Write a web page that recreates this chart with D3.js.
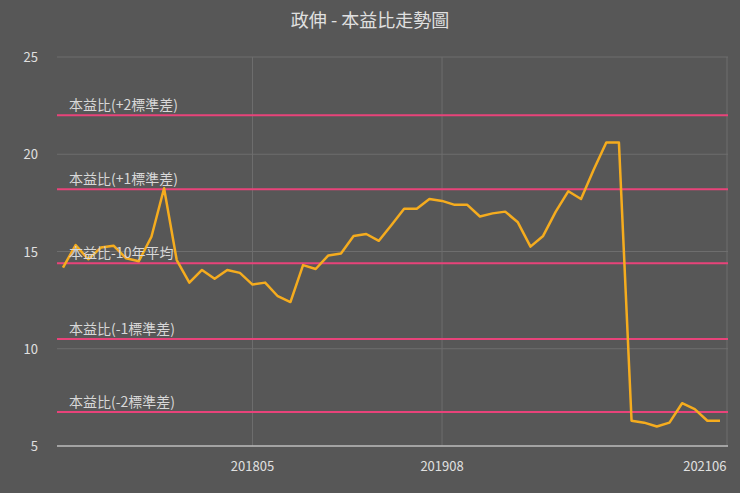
<!DOCTYPE html>
<html><head><meta charset="utf-8">
<script src="https://cdn.jsdelivr.net/npm/d3@7"></script>
<style>body{margin:0;background:#575757;}text{font-family:"Noto Sans CJK TC","Noto Sans",sans-serif;}</style>
</head><body><svg id="c" width="740" height="493"></svg>
<script>
// PE ratio series (one value per month)
const values = [14.17,15.33,14.6,15.2,15.3,14.65,14.5,15.76,18.25,14.56,13.4,14.05,13.6,14.05,13.9,13.3,13.4,12.7,12.4,14.3,14.1,14.8,14.9,15.8,15.9,15.55,16.36,17.2,17.2,17.7,17.6,17.4,17.4,16.8,16.96,17.05,16.5,15.25,15.8,17.05,18.1,17.7,19.2,20.6,20.6,6.3,6.2,6.0,6.2,7.2,6.9,6.3,6.3];
const xTickIdx = [15, 30, 50.8];
const xTickLabels = ["201805", "201908", "202106"];
const bandNames = ["本益比(+2標準差)", "本益比(+1標準差)", "本益比-10年平均", "本益比(-1標準差)", "本益比(-2標準差)"];
const bandValues = [22.0, 18.2, 14.4, 10.5, 6.75];
const yTicks = [5, 10, 15, 20, 25];

const svg = d3.select("#c");
const x = d3.scaleLinear().domain([0, values.length - 1]).range([63, 720]);
const y = d3.scaleLinear().domain([5, 25]).range([446, 57]);

svg.append("rect").attr("width", 740).attr("height", 493).attr("fill", "#575757");

// horizontal grid
svg.selectAll(".hg").data(yTicks.slice(1)).join("line")
  .attr("x1", 57).attr("x2", 728).attr("y1", y).attr("y2", y)
  .attr("stroke", "#6e6e6e").attr("stroke-width", 1);
// vertical grid
svg.selectAll(".vg").data(xTickIdx.slice(0, 2).map(x).concat([727])).join("line")
  .attr("x1", d => d).attr("x2", d => d).attr("y1", 57).attr("y2", 446)
  .attr("stroke", "#6e6e6e");
svg.append("line").attr("x1", 57).attr("x2", 728).attr("y1", 446).attr("y2", 446)
  .attr("stroke", "#bdbdbd").attr("stroke-width", 1.5);

svg.selectAll(".yt").data(yTicks).join("text")
  .attr("x", 38).attr("y", d => y(d) + 5).attr("text-anchor", "end")
  .attr("fill", "#e0e0e0").attr("font-size", 13).text(d => d);
svg.selectAll(".xt").data(xTickIdx).join("text")
  .attr("x", d => x(d)).attr("y", 471).attr("text-anchor", "middle")
  .attr("fill", "#e0e0e0").attr("font-size", 13).text((d, i) => xTickLabels[i]);

// band lines
svg.selectAll(".bl").data(bandValues).join("line")
  .attr("x1", 57).attr("x2", 728).attr("y1", y).attr("y2", y)
  .attr("stroke", "#e8437a").attr("stroke-width", 2);

const line = d3.line().x((d, i) => x(i)).y(d => y(d));
svg.append("path").datum(values).attr("d", line)
  .attr("fill", "none").attr("stroke", "#f5ac1e").attr("stroke-width", 2.5)
  .attr("stroke-linejoin", "round");

svg.selectAll(".bt").data(bandValues).join("text")
  .attr("x", 69).attr("y", d => y(d) - 5)
  .attr("fill", "#d8d8d8").attr("font-size", 14).text((d, i) => bandNames[i]);

svg.append("text").attr("x", 370).attr("y", 27).attr("text-anchor", "middle")
  .attr("fill", "#e0e0e0").attr("font-size", 18).text("政伸 - 本益比走勢圖");
</script></body></html>
